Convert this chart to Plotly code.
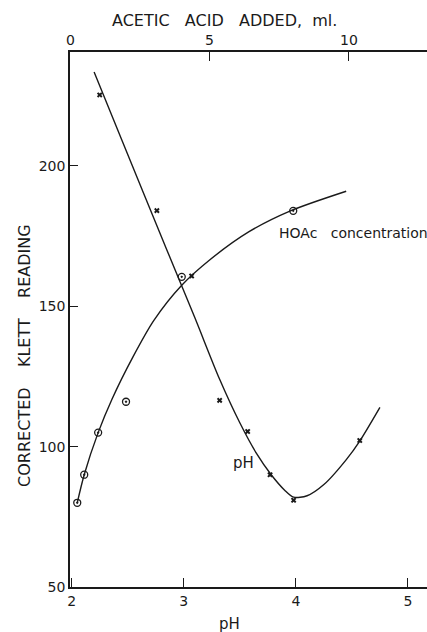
import plotly.graph_objects as go

# HOAc concentration series (vs. acetic acid added, ml) - top axis
hoac_ml = [0.25, 0.5, 1, 2, 4, 8]
hoac_klett = [80, 90, 105, 116, 160.5, 184]
# smooth curve drawn through HOAc points
hoac_curve_ml = [0.25, 0.5, 1, 1.5, 2.25, 3, 4, 5, 6.4, 7.9, 9.9]
hoac_curve_klett = [80, 90, 105, 117, 132, 145, 157.5, 166.5, 176.5, 184, 191]

# pH series - bottom axis
ph_pts = [2.25, 2.76, 3.07, 3.32, 3.57, 3.77, 3.98, 4.57]
ph_klett = [225.3, 184.1, 160.8, 116.5, 105.4, 90, 80.9, 102.2]
# smooth curve drawn through pH points
ph_curve = [2.20, 2.45, 2.85, 3.10, 3.32, 3.50, 3.65, 3.78, 3.90, 3.98, 4.10, 4.25, 4.45, 4.57, 4.75]
ph_curve_klett = [233.5, 209, 170, 145.8, 124, 108.5, 97.5, 90, 84.5, 82, 82.5, 86.5, 95.4, 102, 114]

y_ticks = [50, 100, 150, 200]
ph_ticks = [2, 3, 4, 5]
ml_ticks = [0, 5, 10]

INK = "#1a1a1a"
FONT = "DejaVu Sans"

fig = go.Figure()

fig.add_trace(go.Scatter(x=ph_curve, y=ph_curve_klett, mode="lines",
                         line=dict(color=INK, width=1.4, shape="spline", smoothing=0.8),
                         xaxis="x", yaxis="y", hoverinfo="skip"))
fig.add_trace(go.Scatter(x=ph_pts, y=ph_klett, mode="markers",
                         marker=dict(symbol="x", size=5, color=INK, line=dict(width=0)),
                         xaxis="x", yaxis="y"))
fig.add_trace(go.Scatter(x=hoac_curve_ml, y=hoac_curve_klett, mode="lines",
                         line=dict(color=INK, width=1.4, shape="spline", smoothing=0.8),
                         xaxis="x2", yaxis="y", hoverinfo="skip"))
fig.add_trace(go.Scatter(x=hoac_ml, y=hoac_klett, mode="markers",
                         marker=dict(symbol="circle-open-dot", size=7, color=INK,
                                     line=dict(width=1.3, color=INK)),
                         xaxis="x2", yaxis="y"))

axis_common = dict(showgrid=False, zeroline=False, showline=True, linecolor=INK,
                   linewidth=1.5, ticks="inside", tickcolor=INK, tickwidth=1.3,
                   tickfont=dict(family=FONT, size=14, color=INK))

annotations = [
    dict(text="ACETIC&nbsp;&nbsp;&nbsp;ACID&nbsp;&nbsp;&nbsp;ADDED,&nbsp;&nbsp;ml.", xref="paper", yref="paper",
         x=0.434, y=1.058, xanchor="center", yanchor="middle", showarrow=False,
         font=dict(family=FONT, size=16, color=INK)),
    dict(text="CORRECTED&nbsp;&nbsp;&nbsp;&nbsp;KLETT&nbsp;&nbsp;&nbsp;&nbsp;READING", xref="paper", yref="paper",
         x=-0.126, y=0.432, xanchor="center", yanchor="middle", textangle=-90, showarrow=False,
         font=dict(family=FONT, size=16, color=INK)),
    dict(text="pH", xref="paper", yref="paper", x=0.448, y=-0.069, xanchor="center",
         yanchor="middle", showarrow=False, font=dict(family=FONT, size=15, color=INK)),
    dict(text="HOAc&nbsp;&nbsp;&nbsp;concentration", xref="x", yref="y", x=3.832, y=176,
         xanchor="left", yanchor="middle", showarrow=False,
         font=dict(family=FONT, size=14, color=INK)),
    dict(text="pH", xref="x", yref="y", x=3.537, y=94.1, xanchor="center", yanchor="middle",
         showarrow=False, font=dict(family=FONT, size=15, color=INK)),
]
# top-axis tick labels placed just above the axis line
for v in ml_ticks:
    annotations.append(dict(text=str(v), xref="x2", yref="paper", x=v, y=1.003,
                            xanchor="center", yanchor="bottom", showarrow=False,
                            font=dict(family=FONT, size=14, color=INK)))

fig.update_layout(
    width=427, height=632,
    margin=dict(l=70, r=0, t=52, b=45),
    paper_bgcolor="white", plot_bgcolor="white",
    showlegend=False,
    xaxis=dict(range=[1.985, 5.17], tickvals=ph_ticks, ticklen=9, **axis_common),
    xaxis2=dict(range=[-0.01, 12.8], tickvals=ml_ticks, ticklen=9, overlaying="x",
                side="top", showticklabels=False, **axis_common),
    yaxis=dict(range=[50, 240.6], tickvals=y_ticks, ticklen=8, **axis_common),
    annotations=annotations,
)

fig.write_html("out.html")
